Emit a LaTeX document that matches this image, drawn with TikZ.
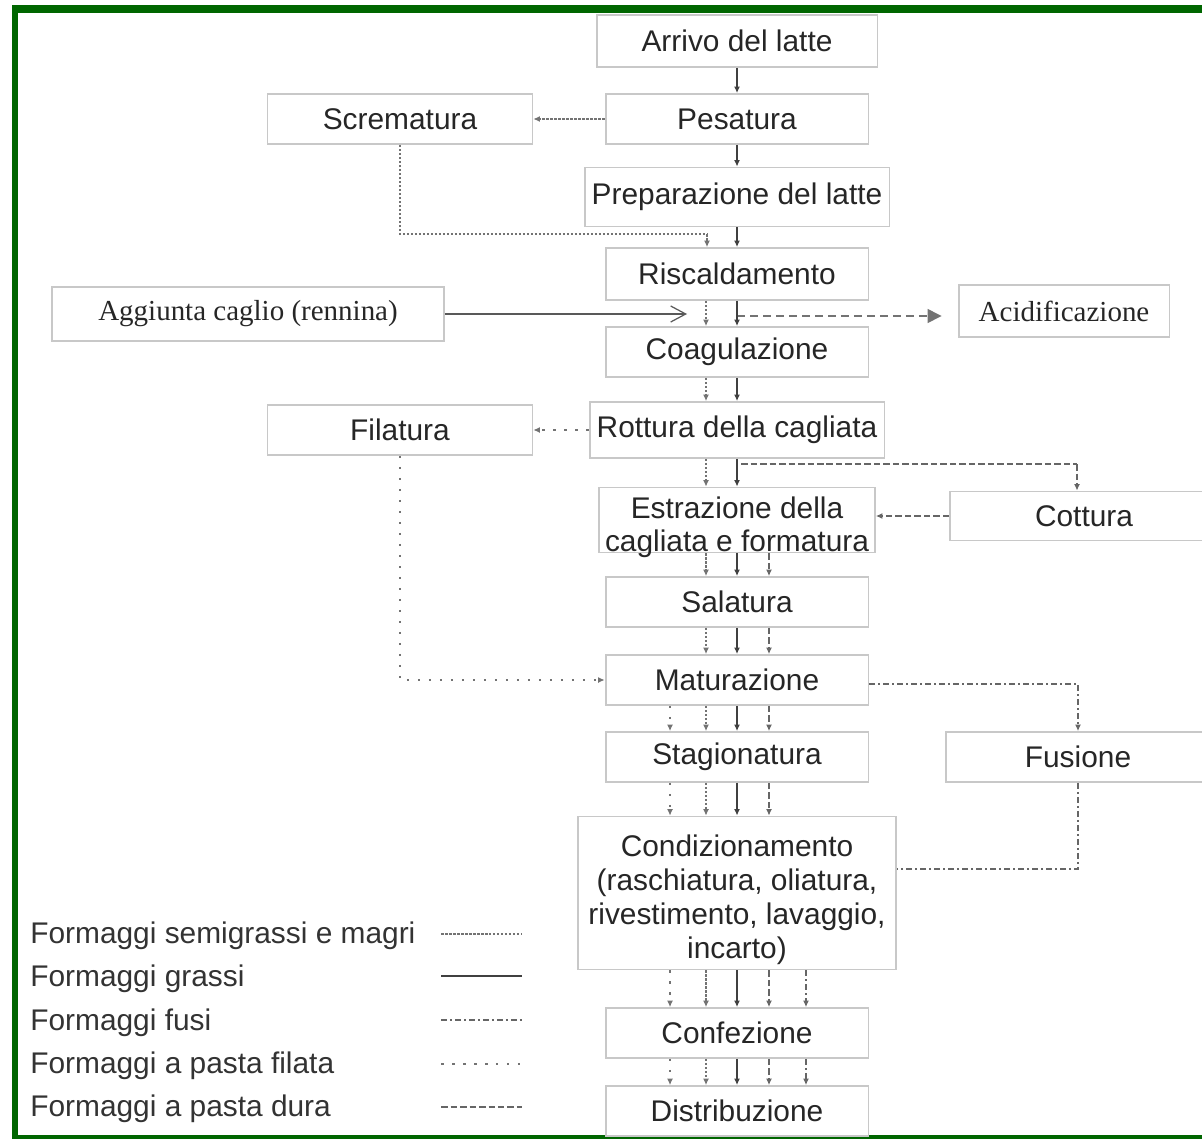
\documentclass[tikz,border=0pt]{standalone}
\usepackage{fontspec}
\usepackage{tikz}
\usetikzlibrary{arrows.meta,positioning}
\newfontfamily\arialfnt{Liberation Sans}
\newfontfamily\timesfnt{Liberation Serif}
\definecolor{framegreen}{RGB}{0,102,0}
\definecolor{boxgray}{RGB}{200,200,200}

\begin{document}
\begin{tikzpicture}[
		x=0.02cm, y=-0.02cm,
		box/.style={draw=boxgray, line width=1.1pt, inner sep=0pt,
				minimum width=5.26cm, minimum height=1cm, text=black!85,
				font=\arialfnt\fontsize{17}{19.2}\selectfont, align=center},
		serifbox/.style={box, font=\timesfnt\fontsize{16.5}{19}\selectfont},
		legend/.style={anchor=west, inner sep=0pt, text=black!80,
				font=\arialfnt\fontsize{17}{19.2}\selectfont},
		arr/.style={-{Latex[length=0.13cm,width=0.12cm]}},
		grassi/.style={black!75, line width=0.7pt},
		semi/.style={black!55, line width=0.6pt, dash pattern=on 0.05cm off 0.03cm},
		fusi/.style={black!60, line width=0.6pt, dash pattern=on 0.12cm off 0.06cm on 0.04cm off 0.06cm},
		filata/.style={black!55, line width=0.6pt, dash pattern=on 0.05cm off 0.17cm},
		dura/.style={black!60, line width=0.6pt, dash pattern=on 0.13cm off 0.06cm}]

	\useasboundingbox (0,0) rectangle (1202,1139);

	% green frame
	\fill[framegreen] (12,5) rectangle (1202,13);
	\fill[framegreen] (12,5) rectangle (18,1139);
	\fill[framegreen] (12,1135) rectangle (1202,1139);

	% main column
	\node[box, minimum width=5.62cm, minimum height=1.04cm] (arrivo) at (737,41) {Arrivo del latte};
	\node[box] (pesat) at (737,119) {Pesatura};
	\node[box, minimum width=6.1cm, minimum height=1.18cm] (prep) at (737,197) {Preparazione del latte};
	\node[box, minimum height=1.04cm] (risc) at (737,274) {Riscaldamento};
	\node[box] (coag) at (737,352) {Coagulazione};
	\node[box, minimum width=5.9cm, minimum height=1.12cm] (rottura) at (737,430) {Rottura della cagliata};
	\node[box, minimum width=5.52cm, minimum height=1.3cm] (estraz) at (737,520)
	{\rule{0pt}{17pt}Estrazione della\\\smash{cagliata e formatura}};
	\node[box] (salat) at (737,602) {Salatura};
	\node[box] (matur) at (737,680) {Maturazione};
	\node[box] (stagion) at (737,757) {Stagionatura};
	\node[box, minimum width=6.36cm, minimum height=3.06cm] (condiz) at (737,893)
	{\rule{0pt}{20pt}Condizionamento\\(raschiatura, oliatura,\\rivestimento, lavaggio,\\incarto)};
	\node[box] (confez) at (737,1033) {Confezione};
	\node[box] (distrib) at (737,1111) {Distribuzione};

	% side steps
	\node[box, minimum width=5.3cm] (screm) at (400,119) {Scrematura};
	\node[serifbox, minimum width=7.84cm, minimum height=1.08cm] (caglio) at (248,314) {Aggiunta caglio (rennina)};
	\node[serifbox, minimum width=4.22cm, minimum height=1.04cm] (acid) at (1064,311) {Acidificazione};
	\node[box, minimum width=5.3cm] (filat) at (400,430) {Filatura};
	\node[box, minimum width=5.36cm, minimum height=0.98cm] (cottura) at (1084,516) {Cottura};
	\node[box, minimum width=5.28cm] (fusione) at (1078,757) {Fusione};

	% bends and free ends
	\coordinate (scremknee) at (707,234);
	\coordinate (caglioend) at (687,314);
	\coordinate (acidstart) at (737,316);
	\coordinate (durastart) at (741,464);
	\coordinate (cotknee) at (1077,464);
	\coordinate (fusknee) at (1078,869);

	% single flows
	\draw[arr,grassi] (arrivo) -- (pesat);
	\draw[arr,grassi] (pesat) -- (prep);
	\draw[arr,grassi] (prep) -- (risc);
	\draw[arr,semi] (pesat.west) -- (screm.east);
	\draw[semi] (screm.south) |- (scremknee);
	\draw[arr,semi] (scremknee) -- (scremknee |- risc.north);
	\draw[black!65, line width=0.7pt, -{Straight Barb[length=0.3cm,width=0.32cm]}] (caglio.east) -- (caglioend);
	\draw[black!55, line width=0.7pt, dash pattern=on 0.16cm off 0.1cm,
		-{Triangle[length=0.28cm,width=0.28cm]}, shorten >=0.32cm] (acidstart) -- (acidstart -| acid.west);
	\draw[arr,filata] (rottura.west) -- (filat.east);
	\draw[dura] (durastart) -- (cotknee);
	\draw[arr,dura] (cotknee) -- (cotknee |- cottura.north);
	\draw[arr,dura] (cottura.west) -- (cottura.west -| estraz.east);
	\draw[arr,filata] (filat.south) |- (matur.west);
	\draw[arr,fusi] ([yshift=-0.08cm]matur.east) -| (fusione.north);
	\draw[fusi] (fusione.south) -- (fusknee) -- (fusknee -| condiz.east);

	% parallel flows
	\draw[arr,semi] ([xshift=-0.62cm]risc.south) -- ([xshift=-0.62cm]coag.north);
	\draw[arr,grassi] (risc) -- (coag);
	\draw[arr,semi] ([xshift=-0.62cm]coag.south) -- ([xshift=-0.62cm]rottura.north);
	\draw[arr,grassi] (coag) -- (rottura);
	\draw[arr,semi] ([xshift=-0.62cm]rottura.south) -- ([xshift=-0.62cm]estraz.north);
	\draw[arr,grassi] (rottura) -- (estraz);

	\draw[arr,semi] ([xshift=-0.62cm]estraz.south) -- ([xshift=-0.62cm]salat.north);
	\draw[arr,grassi] (estraz) -- (salat);
	\draw[arr,dura] ([xshift=0.64cm]estraz.south) -- ([xshift=0.64cm]salat.north);
	\draw[arr,semi] ([xshift=-0.62cm]salat.south) -- ([xshift=-0.62cm]matur.north);
	\draw[arr,grassi] (salat) -- (matur);
	\draw[arr,dura] ([xshift=0.64cm]salat.south) -- ([xshift=0.64cm]matur.north);

	\draw[arr,filata] ([xshift=-1.34cm]matur.south) -- ([xshift=-1.34cm]stagion.north);
	\draw[arr,semi] ([xshift=-0.62cm]matur.south) -- ([xshift=-0.62cm]stagion.north);
	\draw[arr,grassi] (matur) -- (stagion);
	\draw[arr,dura] ([xshift=0.64cm]matur.south) -- ([xshift=0.64cm]stagion.north);
	\draw[arr,filata] ([xshift=-1.34cm]stagion.south) -- ([xshift=-1.34cm]condiz.north);
	\draw[arr,semi] ([xshift=-0.62cm]stagion.south) -- ([xshift=-0.62cm]condiz.north);
	\draw[arr,grassi] (stagion) -- (condiz);
	\draw[arr,dura] ([xshift=0.64cm]stagion.south) -- ([xshift=0.64cm]condiz.north);

	\draw[arr,filata] ([xshift=-1.34cm]condiz.south) -- ([xshift=-1.34cm]confez.north);
	\draw[arr,semi] ([xshift=-0.62cm]condiz.south) -- ([xshift=-0.62cm]confez.north);
	\draw[arr,grassi] (condiz) -- (confez);
	\draw[arr,dura] ([xshift=0.64cm]condiz.south) -- ([xshift=0.64cm]confez.north);
	\draw[arr,fusi] ([xshift=1.38cm]condiz.south) -- ([xshift=1.38cm]confez.north);
	\draw[arr,filata] ([xshift=-1.34cm]confez.south) -- ([xshift=-1.34cm]distrib.north);
	\draw[arr,semi] ([xshift=-0.62cm]confez.south) -- ([xshift=-0.62cm]distrib.north);
	\draw[arr,grassi] (confez) -- (distrib);
	\draw[arr,dura] ([xshift=0.64cm]confez.south) -- ([xshift=0.64cm]distrib.north);
	\draw[arr,fusi] ([xshift=1.38cm]confez.south) -- ([xshift=1.38cm]distrib.north);

	% legend
	\node[legend] (lsemi) at (30,936) {Formaggi semigrassi e magri};
	\node[legend] (lgrassi) at (30,979) {Formaggi grassi};
	\node[legend] (lfusi) at (30,1023) {Formaggi fusi};
	\node[legend] (lfilata) at (30,1066) {Formaggi a pasta filata};
	\node[legend] (ldura) at (30,1109) {Formaggi a pasta dura};
	\draw[semi] (441,934) -- (522,934);
	\draw[grassi] (441,976) -- (522,976);
	\draw[fusi] (441,1020) -- (522,1020);
	\draw[filata] (441,1064) -- (522,1064);
	\draw[dura] (441,1107) -- (522,1107);

\end{tikzpicture}
\end{document}
